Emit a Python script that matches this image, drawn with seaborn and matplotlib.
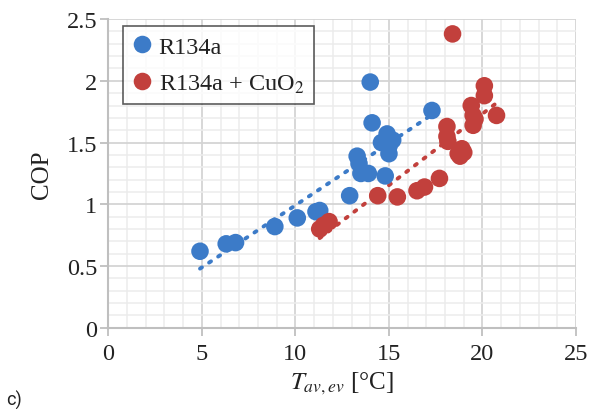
import numpy as np
import pandas as pd
import matplotlib
matplotlib.use("Agg")
import matplotlib.pyplot as plt
import seaborn as sns
from matplotlib.ticker import MultipleLocator

# ---- data ----
blue_x = [4.9, 6.3, 6.8, 8.9, 10.1, 11.1, 11.3, 12.9, 13.3, 13.4, 13.5, 13.9, 14.8,
          14.1, 14.0, 17.3, 14.6, 14.9, 15.0, 15.0, 15.2]
blue_y = [0.62, 0.68, 0.69, 0.82, 0.89, 0.94, 0.95, 1.07, 1.39, 1.33, 1.25, 1.25, 1.23,
          1.66, 1.99, 1.76, 1.50, 1.57, 1.47, 1.41, 1.52]
red_x = [11.3, 11.5, 11.8, 14.4, 15.45, 16.5, 16.9, 17.7, 18.8, 19.0, 18.4, 20.1, 20.1,
         19.4, 19.5, 19.6, 19.5, 20.75, 18.1, 18.1, 18.15, 18.9, 18.7]
red_y = [0.80, 0.83, 0.86, 1.07, 1.06, 1.11, 1.14, 1.21, 1.39, 1.42, 2.38, 1.96, 1.88,
         1.80, 1.72, 1.69, 1.64, 1.72, 1.63, 1.55, 1.51, 1.45, 1.41]
series = ["R134a", "R134a + CuO$_2$"]
x_ticks = [0, 5, 10, 15, 20, 25]
y_ticks = [0, 0.5, 1, 1.5, 2, 2.5]

df = pd.DataFrame({
    "T": blue_x + red_x,
    "COP": blue_y + red_y,
    "fluid": [series[0]] * len(blue_x) + [series[1]] * len(red_x),
})

blue = "#3C7BC8"
red = "#C2403C"
palette = {series[0]: blue, series[1]: red}

sns.set_style("white")
plt.rcParams["font.family"] = ["Liberation Serif", "DejaVu Serif"]
plt.rcParams["mathtext.fontset"] = "stix"

fig = plt.figure(figsize=(5.92, 4.10), dpi=100)
ax = fig.add_axes([0.183, 0.198, 0.790, 0.753])

# grid
ax.xaxis.set_major_locator(MultipleLocator(5))
ax.xaxis.set_minor_locator(MultipleLocator(1))
ax.yaxis.set_major_locator(MultipleLocator(0.5))
ax.yaxis.set_minor_locator(MultipleLocator(0.1))
ax.grid(True, which="minor", color="#ECECEC", linewidth=1.1, zorder=0)
ax.grid(True, which="major", color="#D4D4D4", linewidth=1.3, zorder=0)
ax.set_axisbelow(True)

# trendlines
for xs, ys, c in [(blue_x, blue_y, blue), (red_x, red_y, red)]:
    k, b = np.polyfit(xs, ys, 1)
    xx = np.array([min(xs), max(xs)])
    ax.plot(xx, k * xx + b, color=c, linewidth=2.8, linestyle=(0, (0.6, 2.2)),
            dash_capstyle="round", zorder=2)

sns.scatterplot(data=df, x="T", y="COP", hue="fluid", palette=palette, s=160,
                edgecolor="none", linewidth=0, ax=ax, zorder=3)

ax.set_xlim(0, 25)
ax.set_ylim(0, 2.5)
ax.set_xticks(x_ticks)
ax.set_xticklabels([str(v) for v in x_ticks])
ax.set_yticks(y_ticks)
ax.set_yticklabels(["0", "0.5", "1", "1.5", "2", "2.5"])

for side in ["top", "right"]:
    ax.spines[side].set_visible(False)
for side in ["left", "bottom"]:
    ax.spines[side].set_color("#BFBFBF")
    ax.spines[side].set_linewidth(1.5)
ax.tick_params(axis="both", which="major", length=6, width=1.3, color="#BFBFBF",
               labelsize=17.5, labelcolor="#222222", direction="out",
               bottom=True, left=True)
ax.tick_params(axis="x", which="major", pad=5)
ax.tick_params(axis="y", which="major", pad=2)
ax.tick_params(which="minor", length=0)

ax.set_xlabel("$T_{av,ev}$ [°C]", fontsize=18, color="#222222", labelpad=4)
ax.set_ylabel("COP", fontsize=18, color="#222222", labelpad=10)

leg = ax.legend(loc="upper left", bbox_to_anchor=(0.032, 0.978), borderaxespad=0,
                fontsize=17.5, frameon=True, fancybox=False, edgecolor="#333333",
                handletextpad=0.35, borderpad=0.4, labelspacing=0.6,
                handlelength=0.7, markerscale=1.0)
leg.get_frame().set_linewidth(1.2)
for t in leg.get_texts():
    t.set_color("#222222")

fig.text(0.01, 0.01, "c)", fontsize=13, family=["Roboto", "DejaVu Sans"], color="#222222")

fig.savefig("out.png", dpi=100)
